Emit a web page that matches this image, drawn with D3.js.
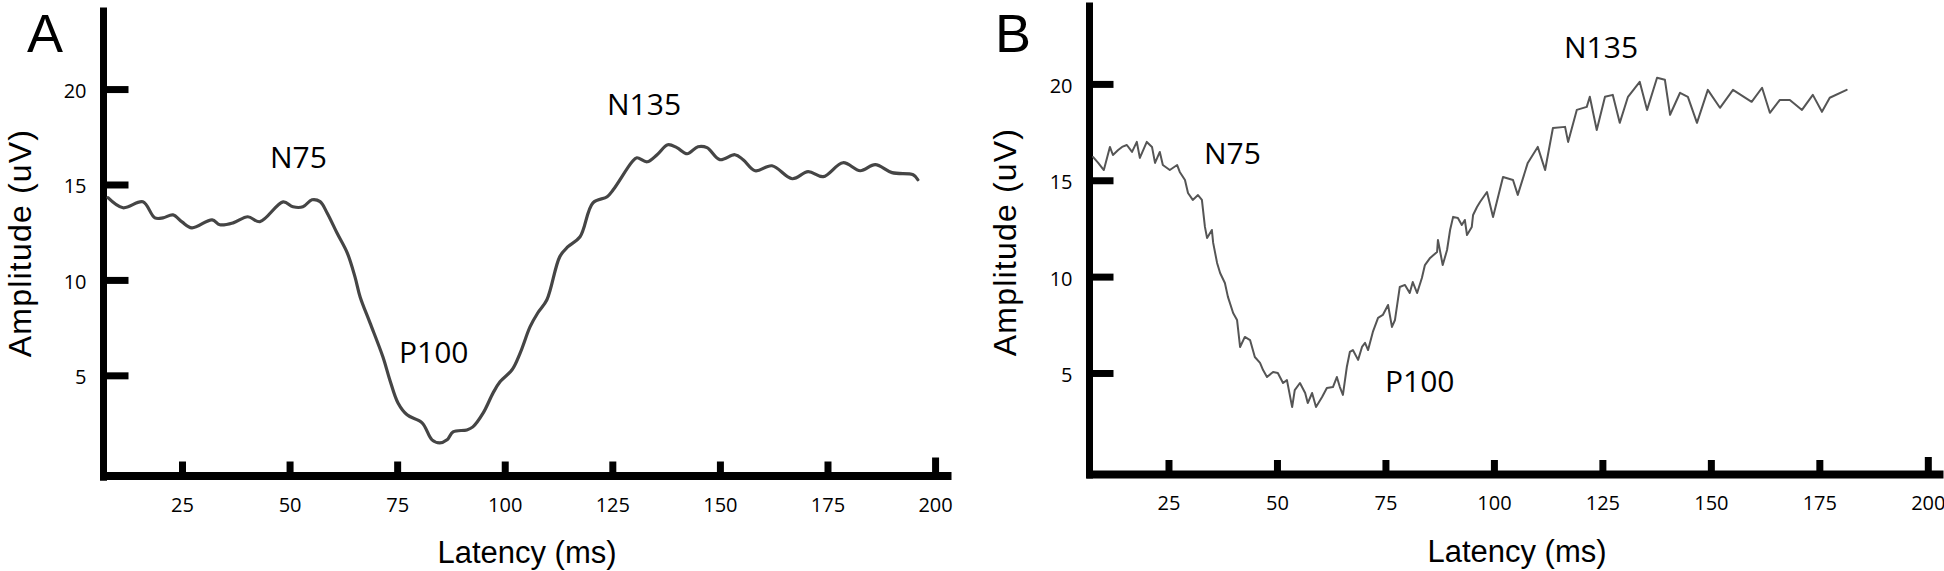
<!DOCTYPE html>
<html><head><meta charset="utf-8">
<script src="https://cdn.jsdelivr.net/npm/d3@7"></script>
<style>
html,body{margin:0;padding:0;background:#fff;}
svg{display:block;background:#fff;}
text{font-family:"Open Sans",sans-serif;fill:#000;}
text.big{font-family:"Liberation Sans",Arial,sans-serif;}
</style></head><body>
<svg id="chart" width="1944" height="571"></svg>
<script>
// ---------- data ----------
const xTickValues = [25, 50, 75, 100, 125, 150, 175, 200];
const yTickValues = [5, 10, 15, 20];
const xTitle = "Latency (ms)";
const yTitle = "Amplitude (uV)";
const panelLetters = ["A", "B"];

const latencyA = [7.8,11.3,15.9,18.7,20.6,22.9,25.0,27.3,32.0,33.8,36.9,40.3,43.1,48.5,50.8,53.1,55.2,57.1,58.7,61.0,63.4,65.2,66.4,68.7,71.7,73.3,75.2,77.3,80.8,83.1,84.9,86.6,88.0,91.2,92.6,95.0,97.3,98.9,101.7,103.6,105.9,107.7,109.8,112.8,114.7,117.5,120.5,123.8,125.2,129.6,130.7,133.1,135.4,137.9,140.0,142.4,144.9,147.0,150.0,153.5,155.4,158.2,162.1,166.8,170.5,174.0,178.6,182.6,186.1,190.0,194.9,196.0];
const amplitudeA = [14.31,13.78,14.09,13.25,13.25,13.41,13.04,12.73,13.15,12.89,12.99,13.31,13.05,14.09,13.83,13.83,14.20,14.10,13.52,12.47,11.42,10.16,9.11,7.75,5.96,4.76,3.55,2.93,2.51,1.62,1.46,1.62,2.04,2.14,2.30,3.03,4.08,4.66,5.29,6.18,7.55,8.28,8.96,11.22,11.74,12.26,14.04,14.36,14.72,16.19,16.40,16.19,16.56,17.08,16.93,16.61,16.98,16.93,16.30,16.56,16.30,15.72,15.98,15.30,15.67,15.41,16.14,15.72,16.04,15.62,15.51,15.25];

const latencyB = [7.6,8.8,10.1,11.5,12.2,13.4,14.3,15.4,16.6,17.7,18.4,20.0,21.2,21.9,23.0,23.7,25.3,27.0,27.6,28.8,29.5,30.6,31.8,32.7,33.4,33.9,35.0,35.3,36.2,36.9,38.0,38.7,39.9,40.8,41.5,42.6,43.8,44.9,46.1,46.8,47.7,49.1,50.2,51.4,52.3,53.5,54.1,55.3,56.5,57.1,58.1,59.0,60.4,61.5,62.9,63.8,64.5,65.2,66.1,66.8,67.5,68.7,69.6,70.3,71.0,72.1,73.3,74.4,75.6,76.5,77.2,78.3,79.5,80.6,81.3,82.3,83.4,84.1,85.3,86.9,87.1,88.2,89.2,89.9,90.6,91.7,92.6,93.3,93.8,94.9,95.2,96.1,96.8,98.4,99.8,102.1,104.4,105.5,107.8,110.1,111.8,113.6,116.4,117.1,119.1,121.4,122.1,123.7,125.6,127.4,129.0,130.9,133.6,135.3,137.6,139.4,140.6,142.9,144.7,146.8,149.3,152.1,155.1,159.4,161.8,163.6,165.9,168.2,171.0,173.5,175.6,177.4,181.3];
const amplitudeB = [16.21,15.90,15.53,16.73,16.31,16.57,16.73,16.83,16.47,16.99,16.16,16.99,16.73,15.90,16.47,15.79,15.53,15.79,15.43,15.01,14.34,13.98,14.23,13.98,12.58,12.00,12.42,11.75,10.71,10.19,9.67,8.95,8.11,7.75,6.35,6.87,6.71,5.83,5.52,5.15,4.79,5.05,5.00,4.48,4.63,3.23,4.11,4.48,3.96,3.44,3.96,3.23,3.75,4.22,4.27,4.79,4.27,3.86,5.31,6.09,6.19,5.68,6.35,6.56,6.19,7.13,7.86,8.01,8.53,7.39,7.75,9.46,9.57,9.15,9.72,9.15,9.93,10.60,10.97,11.28,11.90,10.60,11.38,12.42,13.10,13.04,12.68,12.94,12.16,12.58,13.20,13.61,13.87,14.39,13.09,15.17,15.01,14.24,15.90,16.73,15.53,17.71,17.77,16.99,18.65,18.81,19.33,17.61,19.33,19.43,17.98,19.33,20.11,18.65,20.32,20.22,18.40,19.54,19.33,17.98,19.69,18.76,19.69,19.07,19.80,18.50,19.17,19.17,18.65,19.43,18.55,19.28,19.69];

const peakNames = ["N75", "P100", "N135"];
const peakLatencyA = [45.45, 75.43, 123.76];
const peakAmplitudeA = [15.86, 5.65, 18.64];
const peakLatencyB = [33.18, 74.9, 116.15];
const peakAmplitudeB = [15.84, 4.01, 21.34];

// ---------- layout ----------
const panels = [
  { letter: panelLetters[0], lat: latencyA, amp: amplitudeA, pLat: peakLatencyA, pAmp: peakAmplitudeA,
    xDom: [5.95, 203.7], xRange: [100, 951], yDom: [-0.5, 24.3], yRange: [480.3, 7],
    yAxisX: 103.5, xAxisY: 476, yTick: 25.5, xTick: 14, xTickLast: 18,
    letterX: 27, letterY: 52, xTitleX: 527, xTitleY: 563, yTitleX: 31, yTitleY: 243,
    stroke: "#454545", width: 3.2, curve: d3.curveCatmullRom },
  { letter: panelLetters[1], lat: latencyB, amp: amplitudeB, pLat: peakLatencyB, pAmp: peakAmplitudeB,
    xDom: [5.99, 203.5], xRange: [1086, 1943], yDom: [-0.45, 24.25], yRange: [478, 2],
    yAxisX: 1089.5, xAxisY: 474.5, yTick: 24.5, xTick: 14, xTickLast: 17,
    letterX: 995, letterY: 52, xTitleX: 1517, xTitleY: 562, yTitleX: 1016, yTitleY: 242,
    stroke: "#555", width: 2, curve: d3.curveLinear }
];

const svg = d3.select("#chart");

panels.forEach(p => {
  const x = d3.scaleLinear().domain(p.xDom).range(p.xRange);
  const y = d3.scaleLinear().domain(p.yDom).range(p.yRange);
  const g = svg.append("g");

  // y axis
  const ya = g.append("g").attr("transform", `translate(${p.yAxisX - 0.5},0)`)
    .call(d3.axisLeft(y).tickValues(yTickValues).tickSizeInner(-p.yTick).tickSizeOuter(0).tickPadding(16.5));
  ya.attr("font-family", null).attr("font-size", null);
  ya.select(".domain").attr("stroke", "#000").attr("stroke-width", 7);
  ya.selectAll(".tick line").attr("stroke", "#000").attr("stroke-width", 7);
  ya.selectAll(".tick text").attr("font-size", 20).attr("dy", "0.42em");

  // x axis
  const xa = g.append("g").attr("transform", `translate(0,${p.xAxisY - 0.5})`)
    .call(d3.axisBottom(x).tickValues(xTickValues).tickSizeInner(-p.xTick).tickSizeOuter(0).tickPadding(22));
  xa.attr("font-family", null).attr("font-size", null);
  xa.select(".domain").attr("stroke", "#000").attr("stroke-width", 8);
  xa.selectAll(".tick line").attr("stroke", "#000").attr("stroke-width", 7);
  xa.selectAll(".tick line").filter(d => d === xTickValues[xTickValues.length - 1]).attr("y2", -p.xTickLast);
  xa.selectAll(".tick text").attr("font-size", 20);

  // trace
  const pts = p.lat.map((t, i) => [t, p.amp[i]]);
  g.append("path").datum(pts)
    .attr("fill", "none").attr("stroke", p.stroke).attr("stroke-width", p.width)
    .attr("stroke-linejoin", "round").attr("stroke-linecap", "round")
    .attr("d", d3.line().x(d => x(d[0])).y(d => y(d[1])).curve(p.curve));

  // peak labels
  g.selectAll("text.peak").data(peakNames).enter().append("text")
    .attr("class", "peak").attr("font-size", 30)
    .attr("x", (d, i) => x(p.pLat[i])).attr("y", (d, i) => y(p.pAmp[i]))
    .text(d => d);

  // panel letter
  g.append("text").attr("class", "big").attr("x", p.letterX).attr("y", p.letterY)
    .attr("font-size", 54).text(p.letter);

  // axis titles
  g.append("text").attr("class", "big").attr("x", p.xTitleX).attr("y", p.xTitleY)
    .attr("text-anchor", "middle").attr("font-size", 31).text(xTitle);
  g.append("text").attr("class", "big")
    .attr("transform", `translate(${p.yTitleX},${p.yTitleY}) rotate(-90)`)
    .attr("text-anchor", "middle").attr("font-size", 32).attr("letter-spacing", 1.2).text(yTitle);
});
</script>
</body></html>
